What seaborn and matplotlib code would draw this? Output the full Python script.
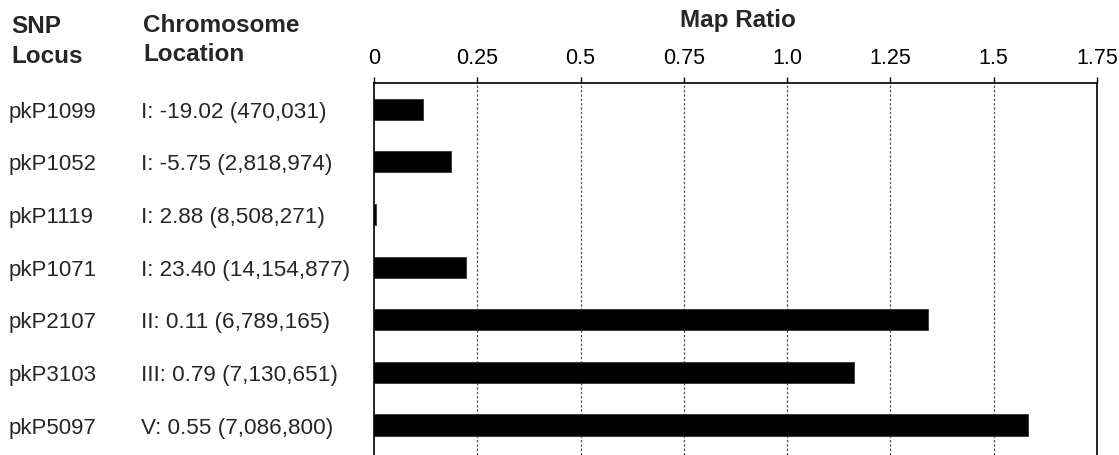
import matplotlib
matplotlib.use("Agg")
import matplotlib.pyplot as plt
import matplotlib.transforms as mtransforms
import seaborn as sns
import pandas as pd
import numpy as np

loci = ["pkP1099", "pkP1052", "pkP1119", "pkP1071", "pkP2107", "pkP3103", "pkP5097"]
locations = ["I: -19.02 (470,031)", "I: -5.75 (2,818,974)", "I: 2.88 (8,508,271)",
             "I: 23.40 (14,154,877)", "II: 0.11 (6,789,165)", "III: 0.79 (7,130,651)",
             "V: 0.55 (7,086,800)"]
map_ratio = [0.118, 0.186, 0.005, 0.222, 1.342, 1.163, 1.584]
x_ticks = [0, 0.25, 0.5, 0.75, 1.0, 1.25, 1.5, 1.75]
x_tick_labels = ["0", "0.25", "0.5", "0.75", "1.0", "1.25", "1.5", "1.75"]

df = pd.DataFrame({"locus": loci, "location": locations, "ratio": map_ratio})

sns.set_style("white")
plt.rcParams["font.family"] = ["Liberation Sans", "DejaVu Sans"]

W, H = 1119, 455
fig = plt.figure(figsize=(W / 100, H / 100), dpi=100)
ax = fig.add_axes([374 / W, 0, (1097 - 374) / W, (455 - 83) / H])

sns.barplot(data=df, x="ratio", y="locus", orient="h", color="black",
            width=0.4, edgecolor="#333333", linewidth=0.6, ax=ax, saturation=1)

ax.set_xlim(0, 1.75)
ax.set_ylim(6.57, -0.5)

# value axis on top
ax.xaxis.tick_top()
ax.set_xticks(x_ticks)
ax.set_xticklabels(x_tick_labels, fontsize=15.5)
ax.tick_params(axis="x", direction="out", length=4, width=1, pad=6, colors="black")
ax.set_xlabel("")
ax.set_ylabel("")

# category boundaries as ticks on the left spine
ax.set_yticks(np.arange(-0.5, 6.0, 1.0))
ax.set_yticklabels([])
ax.tick_params(axis="y", direction="out", length=4, width=1, colors="black")

# dotted grid lines
for xv in x_ticks[1:-1]:
    ax.axvline(xv, color="#555555", linestyle=(0, (2, 1.5)), linewidth=0.9, zorder=0)

for side in ["top", "left", "right"]:
    ax.spines[side].set_visible(True)
    ax.spines[side].set_color("black")
    ax.spines[side].set_linewidth(1.2)
ax.spines["bottom"].set_visible(False)

# row labels: baseline placed so the capitals sit centred on each bar
trans = mtransforms.blended_transform_factory(fig.transFigure, ax.transData)
trans = mtransforms.offset_copy(trans, fig=fig, y=-8.5, units="dots")
for i, (loc, chrom) in enumerate(zip(loci, locations)):
    ax.text(9 / W, i, loc, transform=trans, fontsize=16, va="baseline", ha="left")
    ax.text(141 / W, i, chrom, transform=trans, fontsize=16.2, va="baseline", ha="left")

hdr = dict(fontsize=17.5, fontweight="bold", va="baseline")
fig.text(11 / W, 1 - 33 / H, "SNP", **hdr)
fig.text(11 / W, 1 - 63 / H, "Locus", **hdr)
fig.text(143 / W, 1 - 32 / H, "Chromosome", **hdr)
fig.text(143 / W, 1 - 61 / H, "Location", **hdr)
fig.text(738 / W, 1 - 27 / H, "Map Ratio", ha="center", **hdr)

fig.savefig("out.png", dpi=100)
